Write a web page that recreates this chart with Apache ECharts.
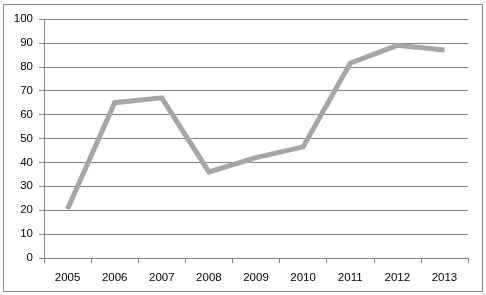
<!DOCTYPE html>
<html>
<head>
<meta charset="utf-8">
<script src="https://cdn.jsdelivr.net/npm/echarts@6/dist/echarts.min.js"></script>
<style>
  html, body { margin: 0; padding: 0; background: #fff; }
  #main { width: 486px; height: 295px; }
</style>
</head>
<body>
<div id="main"></div>
<script>
// years and values
let years = ['2005', '2006', '2007', '2008', '2009', '2010', '2011', '2012', '2013'];
let values = [20.5, 65, 67, 36, 42, 46.5, 81.5, 89, 87];
let yTicks = { min: 0, max: 100, step: 10 };

let lineColor = '#a6a6a6';
let gridColor = '#868686';

let chartOption = {
  animation: false,
  grid: {
    left: 44,
    right: 18,
    top: 19,
    bottom: 37
  },
  graphic: [
    {
      type: 'rect',
      shape: { x: 3.5, y: 4.5, width: 479, height: 287 },
      style: { fill: 'none', stroke: gridColor, lineWidth: 1 },
      z: -1
    }
  ],
  xAxis: {
    type: 'category',
    data: years,
    boundaryGap: true,
    axisLine: { lineStyle: { color: gridColor } },
    axisTick: { show: true, length: 5, lineStyle: { color: gridColor } },
    axisLabel: {
      color: '#000',
      fontFamily: 'Liberation Sans',
      fontSize: 11.5,
      margin: 14
    },
    splitLine: { show: false }
  },
  yAxis: {
    type: 'value',
    min: yTicks.min,
    max: yTicks.max,
    interval: yTicks.step,
    axisLine: { show: true, lineStyle: { color: gridColor } },
    axisTick: { show: true, length: 5, lineStyle: { color: gridColor } },
    axisLabel: {
      color: '#000',
      fontFamily: 'Liberation Sans',
      fontSize: 11.5,
      margin: 11
    },
    splitLine: { lineStyle: { color: gridColor, width: 1 } }
  },
  series: [
    {
      name: 'values',
      type: 'line',
      data: values,
      symbol: 'none',
      lineStyle: { color: lineColor, width: 5, cap: 'butt', join: 'miter' }
    }
  ]
};

var chartBox = document.getElementById('main');
var chart = echarts.init(chartBox);
chart.setOption(chartOption);
</script>
</body>
</html>
